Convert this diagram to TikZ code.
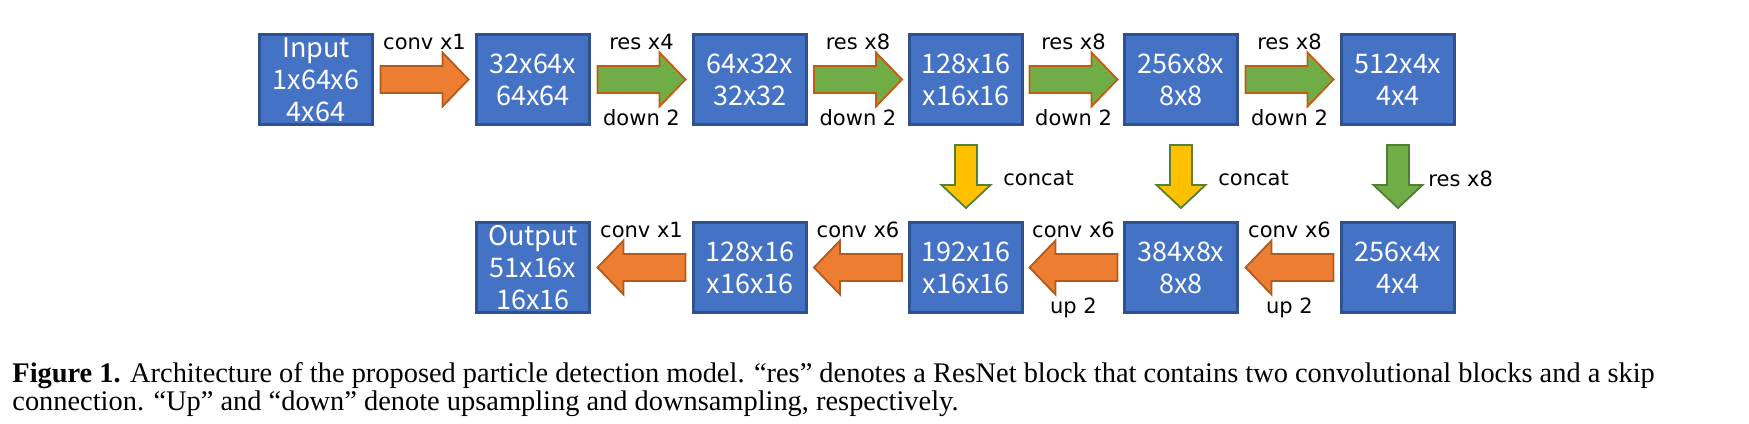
\documentclass[tikz,border=0pt]{standalone}
\usepackage{fontspec}
\setmainfont{Liberation Serif}
\newfontfamily\dfont{Noto Sans CJK SC}
\newfontfamily\lfont{DejaVu Sans}
\usetikzlibrary{calc}
\definecolor{boxfill}{HTML}{4472C4}
\definecolor{boxline}{HTML}{2F528F}
\definecolor{orfill}{HTML}{ED7D31}
\definecolor{orline}{HTML}{AE5A21}
\definecolor{grfill}{HTML}{70AD47}
\definecolor{grline}{HTML}{C55A11}
\definecolor{grdline}{HTML}{507E32}
\definecolor{yefill}{HTML}{FFC000}
\definecolor{yeline}{HTML}{548235}
\newcommand\myharrow[3]{\draw[#1, shift={(#2)}, xscale=#3] (-44,-13.5) -- (18,-13.5) -- (18,-27) -- (44,0) -- (18,27) -- (18,13.5) -- (-44,13.5) -- cycle;}
\newcommand\myvarrow[2]{\draw[#1, shift={(#2)}] (-11,-31.5) -- (11,-31.5) -- (11,8.5) -- (24.5,8.5) -- (0,31.5) -- (-24.5,8.5) -- (-11,8.5) -- cycle;}
\begin{document}
\begin{tikzpicture}[x=0.5pt,y=-0.5pt,
  blk/.style={draw=boxline, fill=boxfill, line width=1.5pt, minimum width=56.5pt, minimum height=45pt, inner sep=0pt, text=white, align=center, font=\dfont\fontsize{13.5}{16}\selectfont},
  lbl/.style={inner sep=0pt, font=\lfont\fontsize{10.5}{13}\selectfont},
  orarrow/.style={fill=orfill, draw=orline, line width=0.9pt, line join=miter},
  grarrow/.style={fill=grfill, draw=grline, line width=0.9pt, line join=miter},
  gdarrow/.style={fill=grfill, draw=grdline, line width=0.9pt, line join=miter},
  yearrow/.style={fill=yefill, draw=yeline, line width=0.9pt, line join=miter},
  captext/.style={anchor=base west, inner sep=0pt, font=\fontsize{14.2}{16}\selectfont}]
\useasboundingbox (0,0) rectangle (1749,423);
% top row
\node[blk] (t1) at (316,79.5) {Input\\1x64x6\\4x64};
\node[blk] (t2) at (533,79.5) {32x64x\\64x64};
\node[blk] (t3) at (750,79.5) {64x32x\\32x32};
\node[blk] (t4) at (966,79.5) {128x16\\x16x16};
\node[blk] (t5) at (1181,79.5) {256x8x\\8x8};
\node[blk] (t6) at (1398,79.5) {512x4x\\4x4};
% bottom row
\node[blk] (o)  at (533,267.5) {Output\\51x16x\\16x16};
\node[blk] (d3) at (750,267.5) {128x16\\x16x16};
\node[blk] (d4) at (966,267.5) {192x16\\x16x16};
\node[blk] (d5) at (1181,267.5) {384x8x\\8x8};
\node[blk] (d6) at (1398,267.5) {256x4x\\4x4};
% arrow centres
\coordinate (a1) at ($(t1.east)!0.5!(t2.west)$);
\coordinate (a2) at ($(t2.east)!0.5!(t3.west)$);
\coordinate (a3) at ($(t3.east)!0.5!(t4.west)$);
\coordinate (a4) at ($(t4.east)!0.5!(t5.west)$);
\coordinate (a5) at ($(t5.east)!0.5!(t6.west)$);
\coordinate (b1) at ($(d3.west)!0.5!(o.east)$);
\coordinate (b2) at ($(d4.west)!0.5!(d3.east)$);
\coordinate (b3) at ($(d5.west)!0.5!(d4.east)$);
\coordinate (b4) at ($(d6.west)!0.5!(d5.east)$);
\coordinate (v4) at ($(t4.south)!0.5!(d4.north)+(0,3)$);
\coordinate (v5) at ($(t5.south)!0.5!(d5.north)+(0,3)$);
\coordinate (v6) at ($(t6.south)!0.5!(d6.north)+(0,3)$);
% top arrows
\myharrow{orarrow}{a1}{1}
\myharrow{grarrow}{a2}{1}
\myharrow{grarrow}{a3}{1}
\myharrow{grarrow}{a4}{1}
\myharrow{grarrow}{a5}{1}
\node[lbl] (l1) at ($(a1)+(0,-38)$) {conv x1};
\node[lbl] (l2) at ($(a2)+(0,-38)$) {res x4};
\node[lbl] (l3) at ($(a3)+(0,-38)$) {res x8};
\node[lbl] (l4) at ($(a4)+(0,-38)$) {res x8};
\node[lbl] (l5) at ($(a5)+(0,-38)$) {res x8};
\node[lbl] (m2) at ($(a2)+(0,38.5)$) {down 2};
\node[lbl] (m3) at ($(a3)+(0,38.5)$) {down 2};
\node[lbl] (m4) at ($(a4)+(0,38.5)$) {down 2};
\node[lbl] (m5) at ($(a5)+(0,38.5)$) {down 2};
% vertical arrows
\myvarrow{yearrow}{v4}
\myvarrow{yearrow}{v5}
\myvarrow{gdarrow}{v6}
\node[lbl, anchor=west] (c4) at ($(v4)+(37,2)$) {concat};
\node[lbl, anchor=west] (c5) at ($(v5)+(37,2)$) {concat};
\node[lbl, anchor=west] (c6) at ($(v6)+(30,2)$) {res x8};
% bottom arrows
\myharrow{orarrow}{b1}{-1}
\myharrow{orarrow}{b2}{-1}
\myharrow{orarrow}{b3}{-1}
\myharrow{orarrow}{b4}{-1}
\node[lbl] (n1) at ($(b1)+(0,-38)$) {conv x1};
\node[lbl] (n2) at ($(b2)+(0,-38)$) {conv x6};
\node[lbl] (n3) at ($(b3)+(0,-38)$) {conv x6};
\node[lbl] (n4) at ($(b4)+(0,-38)$) {conv x6};
\node[lbl] (p3) at ($(b3)+(0,40)$) {up 2};
\node[lbl] (p4) at ($(b4)+(0,40)$) {up 2};
% caption
\node[captext] (cap1) at (12,382) {\textbf{Figure 1.} Architecture of the proposed particle detection model. “res” denotes a ResNet block that contains two convolutional blocks and a skip};
\node[captext] (cap2) at (12,410) {connection. “Up” and “down” denote upsampling and downsampling, respectively.};
\end{tikzpicture}
\end{document}
